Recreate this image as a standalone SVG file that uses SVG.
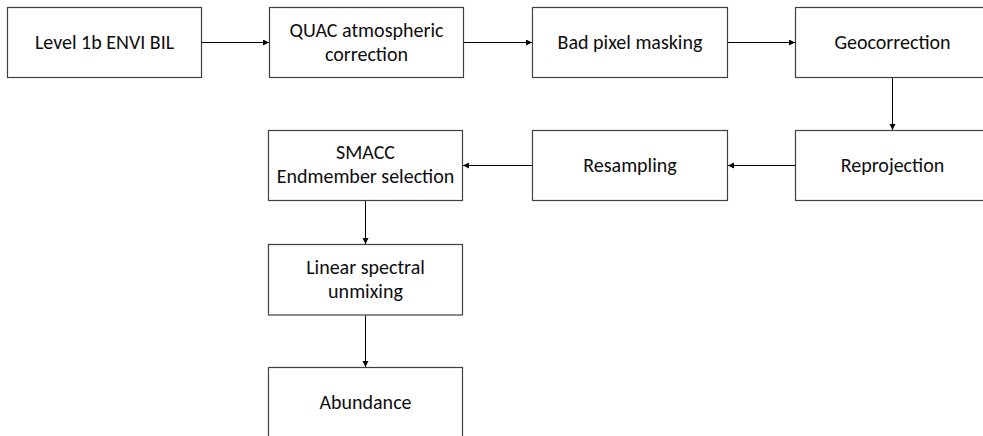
<svg xmlns="http://www.w3.org/2000/svg" width="983" height="436" viewBox="0 0 983 436">
<style>
.box{fill:#ffffff;stroke:#404040;stroke-width:1.2}
.lbl{font-family:Carlito,"Liberation Sans",sans-serif;font-size:20px;fill:#0d0d0d;text-anchor:middle}
.con{stroke:#000;stroke-width:1;fill:none;marker-end:url(#ah)}
</style>
<defs>
<marker id="ah" markerUnits="userSpaceOnUse" markerWidth="7" markerHeight="7" refX="6" refY="3" orient="auto">
<path d="M0,0 L6,3 L0,6 z" fill="#000"/>
</marker>
</defs>
<rect width="983" height="436" fill="#ffffff"/>
<g id="n1"><rect class="box" x="7.5" y="7.5" width="194" height="70"/><text class="lbl" x="104.5" y="49">Level 1b ENVI BIL</text></g>
<g id="n2"><rect class="box" x="269.5" y="7.5" width="194" height="70"/><text class="lbl" x="366.5" y="37">QUAC atmospheric</text><text class="lbl" x="366.5" y="61">correction</text></g>
<g id="n3"><rect class="box" x="532.5" y="7.5" width="195" height="70"/><text class="lbl" x="630" y="49">Bad pixel masking</text></g>
<g id="n4"><rect class="box" x="795.5" y="7.5" width="194" height="70"/><text class="lbl" x="892.5" y="49">Geocorrection</text></g>
<g id="n5"><rect class="box" x="795.5" y="130.5" width="194" height="70"/><text class="lbl" x="892.5" y="172">Reprojection</text></g>
<g id="n6"><rect class="box" x="532.5" y="130.5" width="195" height="70"/><text class="lbl" x="630" y="172">Resampling</text></g>
<g id="n7"><rect class="box" x="268.5" y="130.5" width="194" height="70"/><text class="lbl" x="365.5" y="159">SMACC</text><text class="lbl" x="365.5" y="183">Endmember selection</text></g>
<g id="n8"><rect class="box" x="268.5" y="244.5" width="194" height="70.5"/><text class="lbl" x="365.5" y="274">Linear spectral</text><text class="lbl" x="365.5" y="297.5">unmixing</text></g>
<g id="n9"><rect class="box" x="268.5" y="367.5" width="194" height="80"/><text class="lbl" x="365.5" y="409">Abundance</text></g>
<g id="connectors">
<line class="con" x1="202" y1="42.5" x2="269" y2="42.5"/>
<line class="con" x1="464" y1="42.5" x2="532" y2="42.5"/>
<line class="con" x1="728" y1="42.5" x2="795" y2="42.5"/>
<line class="con" x1="892.5" y1="78" x2="892.5" y2="130"/>
<line class="con" x1="795" y1="165.5" x2="728" y2="165.5"/>
<line class="con" x1="532" y1="165.5" x2="463" y2="165.5"/>
<line class="con" x1="365.5" y1="201" x2="365.5" y2="244"/>
<line class="con" x1="365.5" y1="315.5" x2="365.5" y2="367"/>
</g>
</svg>
